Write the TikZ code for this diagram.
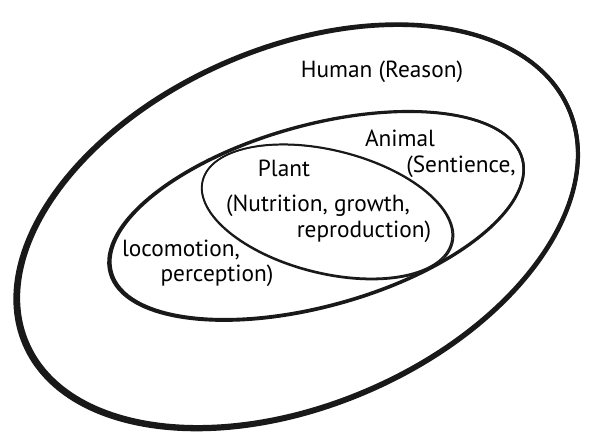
\documentclass[tikz,border=0pt]{standalone}
\usepackage{fontspec}
\setmainfont{PT Sans}
\begin{document}
\begin{tikzpicture}[x=0.75pt,y=0.75pt,
  ring/.style={draw=black!90},
  lbl/.style={font=\fontsize{17.5}{20}\selectfont, inner sep=0pt, text=black}
]
\useasboundingbox (0,0) rectangle (596,433);
% outer ring: human
\draw[ring, line width=3pt] (298,207) ellipse [x radius=295, y radius=178, rotate=23.4];
\draw[ring, line width=3pt] (296.7,206.2) ellipse [x radius=296.5, y radius=179.5, rotate=23.4];
% middle ring: animal
\draw[ring, line width=1.9pt] (317,217.5) ellipse [x radius=213, y radius=90, rotate=15.5];
\draw[ring, line width=1.9pt] (316.1,217.1) ellipse [x radius=214, y radius=91, rotate=15.5];
% inner ring: plant
\draw[ring, line width=1.1pt] (327,221.5) ellipse [x radius=128, y radius=61, rotate=-14];
\draw[ring, line width=1.3pt] (327.6,221.1) ellipse [x radius=128.8, y radius=61.8, rotate=-14];
% labels
\node[lbl] (human) at (382,361) {Human (Reason)};
\node[lbl] (animal) at (400,295) {Animal};
\node[lbl] (sentience) at (461,266) {(Sentience,};
\node[lbl] (plant) at (284,265) {Plant};
\node[lbl] (nutrition) at (318,227) {(Nutrition, growth,};
\node[lbl] (reproduction) at (364,201) {reproduction)};
\node[lbl] (locomotion) at (181,183) {locomotion,};
\node[lbl] (perception) at (217,157) {perception)};
\end{tikzpicture}
\end{document}
